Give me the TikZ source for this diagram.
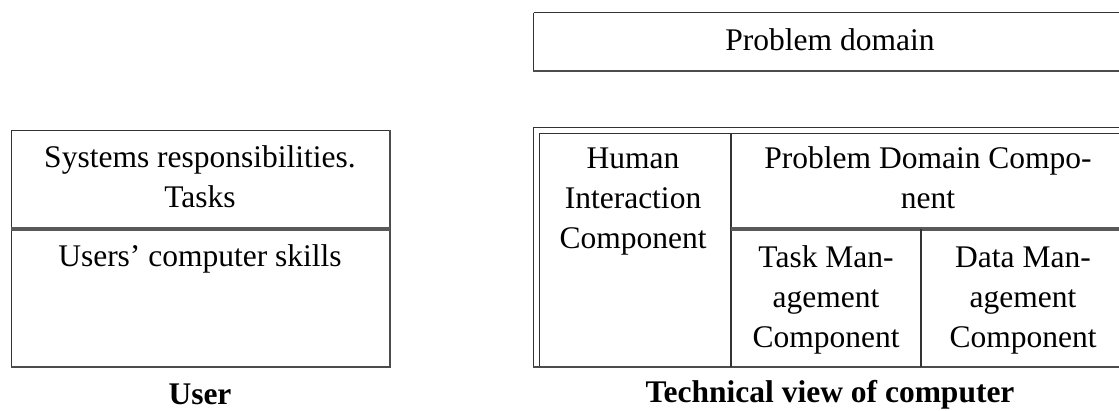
\documentclass[tikz,border=0pt]{standalone}
\usepackage{fontspec}
\setmainfont{Liberation Serif}
\begin{document}
\begin{tikzpicture}[x=1pt,y=-1pt,
  txt/.style={font=\fontsize{31.5}{40}\selectfont, inner sep=0pt, align=center, anchor=base},
  captext/.style={txt, font=\fontsize{31.5}{40}\selectfont\bfseries},
  thin/.style={draw=black!80, line width=1.1pt},
  dark/.style={draw=black!70, line width=2pt},
  heavy/.style={draw=black!65, line width=3.2pt}]
\useasboundingbox (0,0) rectangle (1119,410);
\clip (0,0) rectangle (1119,410);

% problem domain banner
\draw[thin] (533.5,12.5) -- (1140,12.5);
\draw[thin] (533.5,12.5) -- (533.5,71);
\draw[dark] (533,71) -- (1140,71);
\node[txt] (pd) at (830,50) {Problem domain};

% user box (multi-line nodes are placed by their last baseline)
\draw[thin] (11.5,367) -- (11.5,130.5) -- (390,130.5);
\draw[dark] (11,367) -- (390,367) -- (390,130);
\draw[heavy] (11,229) -- (390,229);
\node[txt] (tasks) at (200,207) {Systems responsibilities.\\Tasks};
\node[txt] (skills) at (200,266) {Users’ computer skills};
\node[captext] (user) at (200,404) {User};

% computer components table: outer frame and cell frame
\draw[thin] (533.5,367) -- (533.5,127.5) -- (1140,127.5);
\draw[thin] (539.5,366) -- (539.5,133.5) -- (1140,133.5);
\draw[dark] (533,367) -- (1140,367);
\draw[thin] (731,133.5) -- (731,367);
\draw[heavy] (731,229) -- (1140,229);
\draw[thin] (921,229) -- (921,367);

\node[txt] (hic) at (633,248) {Human\\Interaction\\Component};
\node[txt] (pdc) at (928,208) {Problem Domain Compo-\\nent};
\node[txt] (tmc) at (826,347) {Task Man-\\agement\\Component};
\node[txt] (dmc) at (1023,347) {Data Man-\\agement\\Component};
\node[captext] (tech) at (830,402) {Technical view of computer};
\end{tikzpicture}
\end{document}
